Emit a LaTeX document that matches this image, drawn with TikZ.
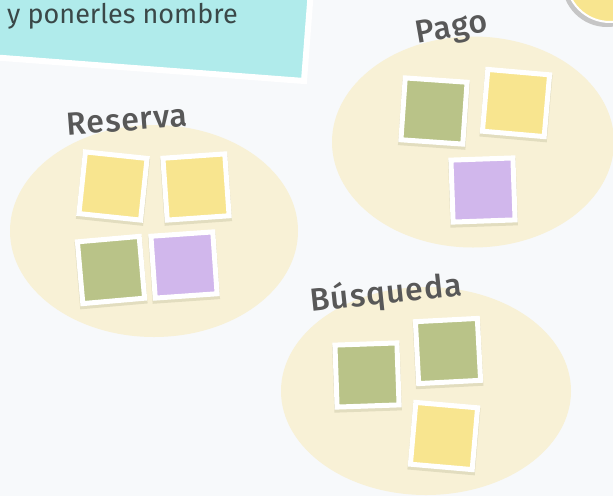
\documentclass[tikz,border=0pt]{standalone}
\usepackage{fontspec}
\setmainfont{Fira Sans}
\newfontfamily\lblfont{Fira Sans}[UprightFont={* Medium}, LetterSpace=3]
\usepackage{tikz}
\usetikzlibrary{shapes.geometric,shadows}
\definecolor{bgc}{HTML}{F7F9FB}
\definecolor{ellc}{HTML}{F8F1D6}
\definecolor{cyanc}{HTML}{B0EBEB}
\definecolor{yel}{HTML}{F8E58F}
\definecolor{grn}{HTML}{B9C388}
\definecolor{pur}{HTML}{D1B7EC}
\definecolor{lblc}{HTML}{585858}
\definecolor{hintc}{HTML}{3A4848}
\definecolor{shc}{HTML}{E2DDBF}

\begin{document}
\begin{tikzpicture}[x=1pt, y=-1pt,
	group/.style={ellipse, fill=ellc, inner sep=0pt},
	title/.style={text=lblc, font=\lblfont\fontsize{32}{36}\selectfont, inner sep=0pt},
	note/.style={rectangle, draw=white, line width=5pt, fill=#1, minimum size=62pt, inner sep=0pt,
		drop shadow={shadow xshift=0pt, shadow yshift=-2.5pt, shadow scale=1.09, fill=shc, opacity=1}}]
			\useasboundingbox (0,0) rectangle (613,496);
			\fill[bgc] (0,0) rectangle (613,496);
			\filldraw[fill=cyanc, draw=white, line width=6pt] (-10,-10) -- (311,-10) -- (304,81) -- (-10,57) -- cycle;
			\node[anchor=base west, text=hintc, font=\fontsize{27}{30}\selectfont, inner sep=0pt] (hint) at (7,23) {y ponerles nombre};
			\node[circle, fill=gray!45, minimum size=90pt, inner sep=0pt] (badgeshadow) at (607,-18) {};
			\node[circle, fill=yel, draw=white, line width=2pt, minimum size=88pt, inner sep=0pt] (badge) at (610,-22) {};
			\node[group, minimum width=288pt, minimum height=212pt] (reserva) at (154,231) {};
			\node[group, minimum width=282pt, minimum height=211pt] (pago) at (473,142) {};
			\node[group, minimum width=290pt, minimum height=208pt] (busqueda) at (426,391) {};
			\node[title, rotate=4.5] (treserva) at (127,120) {Reserva};
			\node[title, rotate=10] (tpago) at (452,30) {Pago};
			\node[title, rotate=6] (tbusqueda) at (386,294) {Búsqueda};
			\node[note=yel, rotate=-6] (r1) at (113,186) {};
			\node[note=yel, rotate=4] (r2) at (196,187) {};
			\node[note=grn, rotate=5] (r3) at (111,270) {};
			\node[note=pur, rotate=4] (r4) at (184,265) {};
			\node[note=grn, rotate=-4] (p1) at (434,111) {};
			\node[note=yel, rotate=-5] (p2) at (516,103) {};
			\node[note=pur, rotate=2] (p3) at (483,190) {};
			\node[note=grn, rotate=2] (b1) at (367,375) {};
			\node[note=grn, rotate=3] (b2) at (448,351) {};
			\node[note=yel, rotate=-5] (b3) at (444,436) {};
		\end{tikzpicture}
\end{document}
